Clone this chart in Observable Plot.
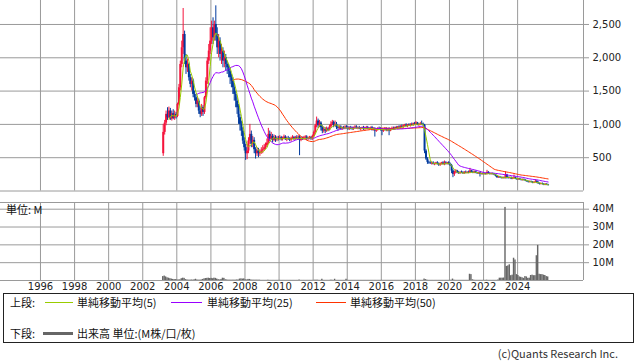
<!DOCTYPE html>
<html><head><meta charset="utf-8">
<script src="https://cdn.jsdelivr.net/npm/d3@7"></script>
<script src="https://cdn.jsdelivr.net/npm/@observablehq/plot@0.6"></script>
<style>
html,body{margin:0;padding:0;background:#fff;}
#wrap{position:relative;width:638px;height:362px;overflow:hidden;font-family:"DejaVu Sans",sans-serif;color:#222;}
.abs{position:absolute;white-space:nowrap;}
.lg{font-family:"Noto Sans CJK JP","DejaVu Sans",sans-serif;font-size:11px;line-height:14px;color:#111;}
</style></head><body>
<div id="wrap">
  <div id="price" class="abs" style="left:0;top:0"></div>
  <div id="vol" class="abs" style="left:0;top:192px"></div>
  <div class="abs lg" style="left:6px;top:202px;">単位: M</div>
  <div class="abs" style="left:3px;top:293px;width:631px;height:50px;border:1px solid #222;box-sizing:border-box;"></div>
  <div class="abs lg" style="left:10px;top:295px;">上段:</div>
  <div class="abs" style="left:45px;top:302px;width:28px;height:1px;background:#99cc00"></div>
  <div class="abs lg" style="left:77px;top:295px;">単純移動平均(5)</div>
  <div class="abs" style="left:171px;top:302px;width:31px;height:1px;background:#9900ff"></div>
  <div class="abs lg" style="left:207px;top:295px;">単純移動平均(25)</div>
  <div class="abs" style="left:316px;top:302px;width:30px;height:1px;background:#ff3300"></div>
  <div class="abs lg" style="left:350px;top:295px;">単純移動平均(50)</div>
  <div class="abs lg" style="left:10px;top:326px;">下段:</div>
  <div class="abs" style="left:43px;top:332px;width:30px;height:3px;background:#666"></div>
  <div class="abs lg" style="left:77px;top:326px;">出来高 単位:(M株/口/枚)</div>
  <div class="abs lg" style="right:20px;top:347px;line-height:13px;color:#333;">(c)Quants Research Inc.</div>
</div>
<script>
// Monthly candles, Mar 2003 .. Oct 2025
const firstMonth = "2003-03-01";
const lastMonthExclusive = "2025-11-01";

const openP = [
 560,880,1020,1150,1100,1200,1080,1160,1090,1150,
 1120,1300,1550,1900,2150,2350,1950,1850,1900,1700,1600,1650,
 1450,1400,1300,1350,1200,1150,1250,1180,1400,1650,1950,2100,
 2250,2450,2300,2500,2350,2150,2250,2050,2100,1950,2000,1900,
 1850,1800,1700,1650,1550,1450,1350,1250,1100,1000,900,750,
 650,560,600,750,850,700,760,620,560,600,560,580,
 600,620,650,680,720,850,780,820,760,800,770,790,
 780,800,770,790,810,770,790,780,760,790,800,780,
 800,790,810,760,790,780,800,810,780,790,800,780,
 820,880,980,1050,980,1020,950,900,920,900,930,910,
 960,1000,1030,980,1000,950,940,960,930,950,940,960,
 950,930,950,940,930,950,960,940,950,930,940,950,
 930,940,950,930,940,950,920,930,900,920,940,930,
 920,900,920,930,910,930,900,930,940,930,950,940,
 960,950,970,960,980,990,970,990,980,1000,990,1010,
 1000,1020,990,1000,1010,1000,990,600,480,430,420,410,
 420,400,410,420,400,390,410,420,400,420,410,420,
 400,380,300,250,280,300,270,260,280,270,260,280,
 270,280,270,300,280,270,290,270,260,270,250,260,
 250,260,250,280,260,250,260,250,240,220,200,210,
 200,190,200,190,240,200,190,200,180,190,200,180,
 170,180,170,160,170,160,150,140,130,140,130,120,
 130,140,120,110,100,110,100,90,100,90];
const highP = [
 1000,1060,1200,1250,1260,1240,1200,1220,1200,1180,
 1320,1600,1950,2250,2740,2400,2050,1980,1920,1750,1700,1680,
 1500,1450,1400,1380,1250,1300,1280,1420,1700,2000,2200,2450,
 2550,2600,2550,2780,2450,2350,2300,2200,2150,2100,2050,1950,
 1900,1850,1750,1700,1600,1500,1400,1300,1150,1050,950,800,
 700,700,800,1000,900,820,800,650,650,640,620,650,
 680,700,720,780,940,900,880,850,840,830,820,820,
 830,820,810,840,830,810,820,800,810,830,820,820,
 830,830,830,810,810,820,830,830,810,820,820,840,
 900,1000,1110,1080,1060,1040,980,960,950,960,950,990,
 1040,1060,1050,1050,1030,980,980,980,960,970,980,980,
 970,960,970,960,960,980,980,960,970,950,960,970,
 960,970,970,950,960,970,950,950,930,950,960,950,
 940,930,950,950,940,950,940,960,960,960,970,970,
 980,980,990,990,1000,1010,1000,1010,1010,1020,1020,1030,
 1040,1030,1010,1030,1050,1020,1000,620,500,450,440,430,
 440,420,430,440,420,420,430,440,450,440,430,440,
 420,400,320,300,320,310,290,290,300,290,290,300,
 290,300,340,310,300,300,300,280,280,280,270,270,
 270,270,310,290,270,270,270,260,250,230,220,220,
 210,210,210,290,250,210,210,210,200,240,210,190,
 190,190,180,180,180,170,160,150,150,150,140,140,
 170,160,140,120,120,120,110,110,110,100];
const lowP = [
 520,840,980,1060,1080,1060,1050,1070,1060,1080,
 1100,1280,1500,1850,2050,1900,1750,1780,1650,1550,1500,1400,
 1350,1250,1250,1150,1100,1120,1120,1150,1380,1600,1900,2050,
 2200,2200,2250,2250,2050,2000,1950,1900,1850,1850,1800,1750,
 1700,1600,1550,1450,1350,1250,1150,1000,900,820,700,600,
 460,470,560,700,650,650,560,480,520,500,520,550,
 560,600,620,650,700,740,760,720,740,730,740,750,
 760,750,750,770,760,740,760,740,740,770,760,760,
 770,770,530,740,760,760,780,760,760,770,760,760,
 800,860,950,940,950,900,860,870,860,880,890,900,
 940,980,950,960,920,900,920,920,910,920,920,930,
 910,910,920,910,910,930,930,920,920,900,920,910,
 910,920,920,910,920,900,900,810,880,900,920,900,
 830,880,900,890,890,830,890,910,910,910,930,920,
 930,930,950,940,960,960,950,970,960,980,970,990,
 980,980,970,980,990,970,560,460,400,400,400,390,
 390,380,390,390,370,370,390,390,380,390,390,390,
 370,260,200,220,260,260,250,250,260,250,250,260,
 260,260,260,270,260,260,260,250,250,210,240,240,
 240,240,240,250,240,240,240,230,210,190,190,190,
 180,180,180,180,180,180,180,170,170,180,170,160,
 160,160,150,150,150,140,130,120,120,120,110,110,
 120,110,100,90,90,90,80,80,80,75];
const closeP = [
 880,1020,1150,1100,1200,1080,1160,1090,1150,1120,
 1300,1550,1900,2150,2350,1950,1850,1900,1700,1600,1650,1450,
 1400,1300,1350,1200,1150,1250,1180,1400,1650,1950,2100,2250,
 2450,2300,2500,2350,2150,2250,2050,2100,1950,2000,1900,1850,
 1800,1700,1650,1550,1450,1350,1250,1100,1000,900,750,650,
 560,600,750,850,700,760,620,560,600,560,580,600,
 620,650,680,720,850,780,820,760,800,770,790,780,
 800,770,790,810,770,790,780,760,790,800,780,800,
 790,810,760,790,780,800,810,780,790,800,780,820,
 880,980,1050,980,1020,950,900,920,900,930,910,960,
 1000,1030,980,1000,950,940,960,930,950,940,960,950,
 930,950,940,930,950,960,940,950,930,940,950,930,
 940,950,930,940,950,920,930,900,920,940,930,920,
 900,920,930,910,930,900,930,940,930,950,940,960,
 950,970,960,980,990,970,990,980,1000,990,1010,1000,
 1020,990,1000,1010,1000,990,600,480,430,420,410,420,
 400,410,420,400,390,410,420,400,420,410,420,400,
 380,300,250,280,300,270,260,280,270,260,280,270,
 280,270,300,280,270,290,270,260,270,250,260,250,
 260,250,280,260,250,260,250,240,220,200,210,200,
 190,200,190,240,200,190,200,180,190,200,180,170,
 180,170,160,170,160,150,140,130,140,130,120,130,
 140,120,110,100,110,100,90,100,90,85];
// Volume in millions
const volumeM = [
 2.2,2.5,2.0,1.5,1.3,1.0,0.8,0.6,0.5,0.5,
 0.3,0.3,0.4,1.0,1.3,1.2,0.5,0.3,0.2,0.2,0.3,0.2,
 0.4,0.7,0.3,0.2,0.2,0.3,0.6,0.9,1.1,1.2,1.3,1.1,
 1.2,1.0,1.3,1.2,0.8,0.5,0.3,0.6,1.3,1.2,0.4,0.3,
 0.2,0.2,0.2,0.2,0.2,0.2,0.3,0.3,0.8,0.9,0.8,0.9,
 0.4,0.3,0.6,0.6,0.3,0.2,0.2,0.2,0.2,0.2,0.2,0.1,
 0.1,0.1,0.1,0.1,0.2,0.1,0.1,0.1,0.1,0.1,0.1,0.1,
 0.1,0.1,0.1,0.1,0.1,0.1,0.1,0.1,0.1,0.1,0.1,0.1,
 0.1,0.1,0.3,0.1,0.1,0.1,0.1,0.1,0.1,0.1,0.1,0.1,
 0.1,0.2,0.2,0.2,0.1,0.1,0.7,0.1,0.1,0.1,0.1,0.1,
 0.2,0.2,0.1,0.7,0.1,0.1,0.1,0.1,0.1,0.1,0.1,0.7,
 0.1,0.1,0.1,0.1,0.1,0.1,0.1,0.1,0.1,0.1,0.1,0.1,
 0.1,0.1,0.1,0.1,0.1,0.1,0.1,0.1,0.1,0.1,0.1,0.1,
 0.1,0.1,0.1,0.1,0.1,0.1,0.1,0.1,0.1,0.1,0.1,0.1,
 0.1,0.1,0.1,0.1,0.1,0.1,0.1,0.1,0.1,0.1,0.1,0.1,
 0.1,0.1,0.1,0.1,0.1,0.1,0.8,0.5,0.2,0.1,0.1,0.1,
 0.1,0.1,0.1,0.1,0.1,0.1,0.1,0.1,0.1,0.1,0.1,0.1,
 0.1,0.2,0.8,0.2,0.1,0.1,0.1,0.1,0.1,0.1,0.1,0.1,
 0.1,0.1,3.5,3.3,0.4,0.2,0.1,0.1,0.1,0.1,0.1,0.1,
 0.1,0.1,0.2,0.1,0.1,0.1,0.1,0.1,0.1,0.1,0.3,1.3,
 1.3,1.3,1.4,41,7.9,8.2,8.8,2.7,3.0,12.5,11.5,3.3,
 2.8,2.0,1.8,1.5,1.2,2.2,2.0,1.2,1.3,2.8,3.0,2.7,
 2.7,13.9,19.7,3.5,3.3,3.3,3.0,2.8,2.2,2.0];

const yearTicks = [1996,1998,2000,2002,2004,2006,2008,2010,2012,2014,2016,2018,2020,2022,2024];
const priceTicks = [500,1000,1500,2000,2500];
const volTicks = [10,20,30,40];

const RED = "#f5143c", BLUE = "#003a9e", GRID = "#9a9a9a";
const months = d3.utcMonth.range(new Date(firstMonth), new Date(lastMonthExclusive));
const n = months.length;
if ([openP,highP,lowP,closeP,volumeM].some(a => a.length !== n)) {
  document.body.insertAdjacentHTML("beforeend", `<pre style="position:absolute;top:0;left:0;color:red">len ${n} ${[openP,highP,lowP,closeP,volumeM].map(a=>a.length)}</pre>`);
}
const rows = months.map((d, i) => ({
  date: d, mid: d3.utcDay.offset(d, 15), end: d3.utcMonth.offset(d, 1),
  open: openP[i], high: highP[i], low: lowP[i], close: closeP[i], vol: volumeM[i],
  up: closeP[i] >= openP[i]
}));
const yearDates = yearTicks.map(y => new Date(Date.UTC(y, 0, 1)));
const xDomain = [new Date(Date.UTC(1993, 7, 27)), new Date(Date.UTC(2027, 10, 13))];
const fontStyle = {fontFamily: "DejaVu Sans, sans-serif", fontSize: "10px", color: "#222", background: "transparent", overflow: "visible"};

const ma = (k, color) => Plot.lineY(rows, Plot.windowY(
  {k, anchor: "end", reduce: v => (v.length < k ? NaN : d3.mean(v))},
  {x: "mid", y: "close", stroke: color, strokeWidth: 1}));

const price = Plot.plot({
  width: 638, height: 192,
  marginLeft: 0, marginRight: 55, marginTop: 0, marginBottom: 1.5,
  style: fontStyle,
  x: {type: "utc", domain: xDomain, axis: null},
  y: {domain: [0, 2860], axis: null},
  marks: [
    Plot.ruleY(priceTicks, {stroke: GRID}),
    Plot.ruleX(yearDates, {stroke: GRID}),
    Plot.ruleY([0], {stroke: GRID}),
    Plot.ruleX([xDomain[1]], {stroke: GRID}),
    Plot.ruleX(rows, {x: "mid", y1: "low", y2: "high", stroke: d => d.up ? RED : BLUE, strokeWidth: 1}),
    Plot.ruleX(rows, {x: "mid", y1: "open", y2: "close", stroke: d => d.up ? RED : BLUE, strokeWidth: 2}),
    ma(50, "#ff3300"),
    ma(25, "#9900ff"),
    ma(5, "#99cc00"),
    Plot.axisY({anchor: "right", label: null, ticks: priceTicks, tickFormat: d3.format(","), tickSize: 5, tickPadding: 4, stroke: GRID, fill: "#222", fontSize: 10})
  ]
});
document.getElementById("price").appendChild(price);

const vol = Plot.plot({
  width: 638, height: 100,
  marginLeft: 0, marginRight: 55, marginTop: 10, marginBottom: 12,
  style: fontStyle,
  x: {type: "utc", domain: xDomain, label: null},
  y: {domain: [0, 43.76], axis: null, label: null},
  marks: [
    Plot.ruleY(volTicks, {stroke: GRID}),
    Plot.ruleX(yearDates, {stroke: GRID}),
    Plot.ruleY([0, 43.76], {stroke: GRID}),
    Plot.ruleX([xDomain[1]], {stroke: GRID}),
    Plot.rectY(rows, {x1: "date", x2: "end", y: "vol", fill: "#666666"}),
    Plot.axisY({anchor: "right", label: null, ticks: volTicks, tickFormat: d => d + "M", tickSize: 5, tickPadding: 4, stroke: GRID, fill: "#222", fontSize: 10}),
    Plot.axisX({anchor: "bottom", label: null, ticks: yearDates, tickFormat: d3.utcFormat("%Y"), tickSize: 0, tickPadding: 2, fill: "#222", fontSize: 10})
  ]
});
document.getElementById("vol").appendChild(vol);
</script>
</body></html>
